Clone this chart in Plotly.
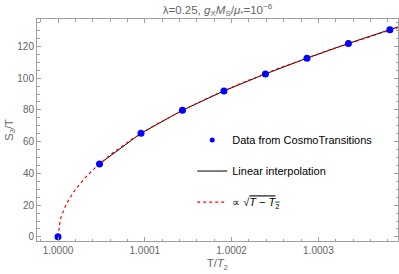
import numpy as np
import plotly.graph_objects as go

# ---- data ----
t_ratio = [1.0, 1.0000478, 1.0000956, 1.0001434, 1.0001912, 1.000239, 1.0002868, 1.0003346, 1.0003824]
s3_over_t = [0.0, 46.0, 65.3, 79.8, 92.0, 102.7, 112.6, 121.9, 130.6]

x_range = [0.9999758, 1.0003917]
y_range = [-2.6, 137.3]
x_ticks = [1.0, 1.0001, 1.0002, 1.0003]
x_tick_labels = ["1.0000", "1.0001", "1.0002", "1.0003"]
y_ticks = [0, 20, 40, 60, 80, 100, 120]

# sqrt fit (least squares for coefficient)
xd = np.array(t_ratio)
yd = np.array(s3_over_t)
u = np.sqrt(xd - 1.0)
A = float((u @ yd) / (u @ u))
xf = np.linspace(1.0, x_range[1], 300)
yf = A * np.sqrt(xf - 1.0)

# linear interpolation (from the first non-zero point), extended to the frame edge
xl = list(t_ratio[1:])
yl = list(s3_over_t[1:])
slope = (yl[-1] - yl[-2]) / (xl[-1] - xl[-2])
xl.append(x_range[1])
yl.append(yl[-1] + slope * (x_range[1] - xl[-2]))

FONT = "Liberation Sans, Arial, sans-serif"
GRAY = "#666666"
FRAME = "#a0a0a0"

fig = go.Figure()
fig.add_trace(go.Scatter(x=xl, y=yl, mode="lines", showlegend=False,
                         line=dict(color="black", width=1)))
fig.add_trace(go.Scatter(x=xf, y=yf, mode="lines", showlegend=False,
                         line=dict(color="#ff0000", width=1.2, dash="3px,3px")))
fig.add_trace(go.Scatter(x=t_ratio, y=s3_over_t, mode="markers", showlegend=False,
                         marker=dict(color="#0000ff", size=7)))
# legend-only proxies
fig.add_trace(go.Scatter(x=[None], y=[None], mode="markers",
                         name="Data from CosmoTransitions", legendgroup="a",
                         marker=dict(color="#0000ff", size=5)))
fig.add_trace(go.Scatter(x=[None], y=[None], mode="lines", name="Linear interpolation",
                         legendgroup="b", line=dict(color="black", width=1)))
fig.add_trace(go.Scatter(x=[None], y=[None], mode="lines",
                         name="∝ √<span style='text-decoration:overline'><i>T</i> − <i>T</i><sub>2</sub></span>",
                         legendgroup="c", line=dict(color="#ff0000", width=1.2, dash="3px,3px")))

axis_common = dict(showgrid=False, zeroline=False, showline=True, linecolor=FRAME, linewidth=1,
                   mirror="ticks", ticks="inside", tickcolor=FRAME, ticklen=4, tickwidth=1,
                   tickfont=dict(family=FONT, size=10, color=GRAY))

fig.update_xaxes(range=x_range, tickvals=x_ticks, ticktext=x_tick_labels,
                 minor=dict(dtick=0.00002, ticks="inside", ticklen=2.5, tickcolor=FRAME, tick0=1.0),
                 title=dict(text="T/<i>T</i><sub>2</sub>", font=dict(family=FONT, size=11, color=GRAY), standoff=4),
                 **axis_common)
fig.update_yaxes(range=y_range, tickvals=y_ticks,
                 minor=dict(dtick=5, ticks="inside", ticklen=2.5, tickcolor=FRAME, tick0=0),
                 title=dict(text="S<sub>3</sub>/T", font=dict(family=FONT, size=11, color=GRAY), standoff=1),
                 **axis_common)

fig.update_layout(
    width=399, height=274,
    margin=dict(l=37, r=1, t=19, b=33),
    paper_bgcolor="white", plot_bgcolor="white",
    title=dict(text="λ=0.25, <i>g</i><sub>X</sub><i>M</i><sub>S</sub>/<i>μ</i><sub>*</sub>=10<sup>−6</sup>",
               x=0.545, xanchor="center", y=0.965, yanchor="middle",
               font=dict(family=FONT, size=11.5, color=GRAY)),
    legend=dict(x=0.43, y=0.52, xanchor="left", yanchor="top", bgcolor="rgba(0,0,0,0)",
                font=dict(family=FONT, size=11, color="black"), tracegroupgap=12,
                itemwidth=30),
)

fig.write_html("out.html", config={"displayModeBar": False},
               post_script="document.body.style.margin='0';document.body.style.padding='0';")
